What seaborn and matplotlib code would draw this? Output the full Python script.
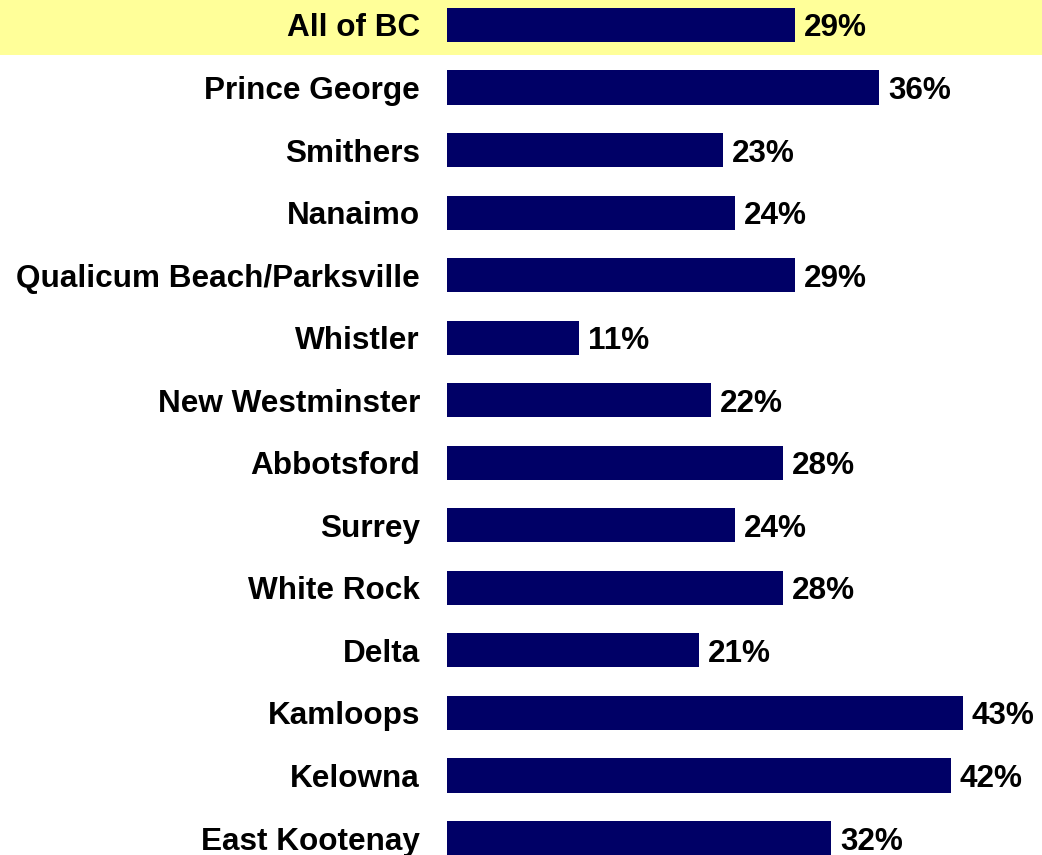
import matplotlib
matplotlib.use('Agg')
import matplotlib.pyplot as plt
import seaborn as sns
import pandas as pd
from matplotlib.patches import Rectangle

# Data
regions = ['All of BC', 'Prince George', 'Smithers', 'Nanaimo',
           'Qualicum Beach/Parksville', 'Whistler', 'New Westminster',
           'Abbotsford', 'Surrey', 'White Rock', 'Delta', 'Kamloops',
           'Kelowna', 'East Kootenay']
values = [29, 36, 23, 24, 29, 11, 22, 28, 24, 28, 21, 43, 42, 32]

df = pd.DataFrame({'region': regions, 'value': values})

sns.set_theme(style='white')
plt.rcParams['font.family'] = ['Liberation Sans', 'DejaVu Sans']

W, H = 1042, 855
fig = plt.figure(figsize=(W / 100, H / 100), dpi=100)
ax_left = 447 / W
ax = fig.add_axes([ax_left, 0, 1 - ax_left, 1])
ax.set_zorder(1)
ax.patch.set_alpha(0)

# Highlight band behind "All of BC"
fig.patches.append(Rectangle((0, 1 - 55 / H), 1, 55 / H, transform=fig.transFigure,
                             facecolor='#FFFF99', edgecolor='none', zorder=-1))

sns.barplot(data=df, x='value', y='region', ax=ax, color='#000066',
            saturation=1, width=0.545, orient='h', linewidth=0)

px_per_pct = 12
ax.set_xlim(0, (W - 447) / px_per_pct)
row = 62.54
ax.set_ylim((H - 25) / row, -25 / row)

fs = 22.7
for i, v in enumerate(values):
    ax.text(v + 9 / px_per_pct, i, f'{v}%', va='center_baseline', ha='left',
            fontsize=fs, fontweight='bold', color='black')

ax.set_xlabel('')
ax.set_ylabel('')
ax.set_xticks([])
ax.tick_params(axis='y', length=0, pad=19.5)
for lbl in ax.get_yticklabels():
    lbl.set_fontsize(fs)
    lbl.set_fontweight('bold')
    lbl.set_color('black')
sns.despine(ax=ax, left=True, bottom=True)

fig.savefig('out.png', dpi=100)
